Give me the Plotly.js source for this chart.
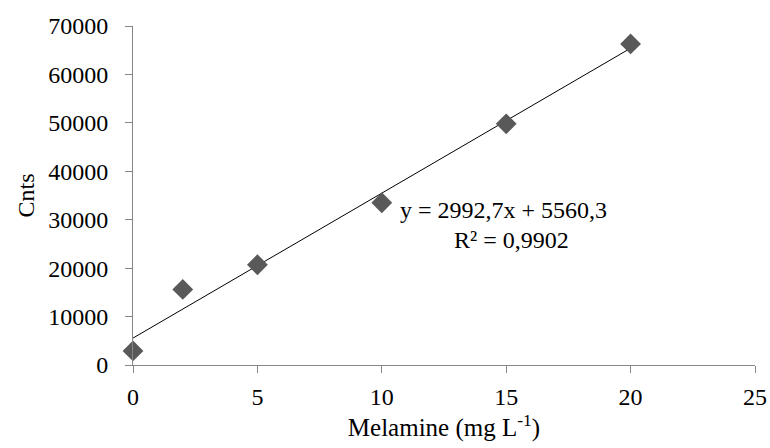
<!DOCTYPE html>
<html>
<head>
<meta charset="utf-8">
<script src="https://cdn.plot.ly/plotly-3.0.1.min.js"></script>
<style>html,body{margin:0;padding:0;background:#fff;}#chart{width:770px;height:448px;}</style>
</head>
<body>
<div id="chart"></div>
<script>
// Data
const melamine = [0, 2, 5, 10, 15, 20];
const counts = [2900, 15600, 20700, 33500, 49800, 66300];
// Linear trendline shown in the chart
const slope = 2992.7;
const intercept = 5560.3;
const trendX = [0, 20];
const trendY = trendX.map(x => slope * x + intercept);
const xTicks = [0, 5, 10, 15, 20, 25];
const yTicks = [0, 10000, 20000, 30000, 40000, 50000, 60000, 70000];
const eqText = "y = 2992,7x + 5560,3";
const r2Text = "R² = 0,9902";

const font = "Liberation Serif, Times New Roman, serif";
const axisColor = "#868686";

const traces = [
  {
    x: trendX, y: trendY, mode: "lines", type: "scatter",
    line: {color: "#000000", width: 1}, hoverinfo: "skip", cliponaxis: false
  },
  {
    x: melamine, y: counts, mode: "markers", type: "scatter",
    marker: {symbol: "diamond", size: 16, color: "#595959"}, cliponaxis: false
  }
];

const layout = {
  width: 770, height: 448,
  margin: {l: 133, r: 15, t: 26, b: 83},
  paper_bgcolor: "#ffffff", plot_bgcolor: "#ffffff",
  showlegend: false,
  font: {family: font, color: "#000000", size: 24},
  xaxis: {
    range: [0, 25], tickvals: xTicks, ticktext: xTicks.map(String),
    showgrid: false, zeroline: false, showline: true, linecolor: axisColor, linewidth: 1,
    ticks: "outside", ticklen: 7, tickcolor: axisColor, tickwidth: 1,
    ticklabelstandoff: 3,
    tickfont: {family: font, size: 24, color: "#000"},
    title: {text: "Melamine (mg L<sup>-1</sup>)", font: {family: font, size: 25, color: "#000"}, standoff: 4}
  },
  yaxis: {
    range: [0, 70000], tickvals: yTicks, ticktext: yTicks.map(String),
    showgrid: false, zeroline: false, showline: true, linecolor: axisColor, linewidth: 1,
    ticks: "outside", ticklen: 7, tickcolor: axisColor, tickwidth: 1,
    ticklabelstandoff: 12,
    tickfont: {family: font, size: 24, color: "#000"},
    title: {text: "Cnts", font: {family: font, size: 24, color: "#000"}, standoff: 6}
  },
  annotations: [
    {xref: "paper", yref: "paper", x: (398 - 133) / 622, y: (365 - 210) / 339,
     xanchor: "left", yanchor: "middle", text: eqText, showarrow: false,
     font: {family: font, size: 24, color: "#000"}},
    {xref: "paper", yref: "paper", x: (511 - 133) / 622, y: (365 - 240) / 339,
     xanchor: "center", yanchor: "middle", text: r2Text, showarrow: false,
     font: {family: font, size: 24, color: "#000"}}
  ]
};

Plotly.newPlot("chart", traces, layout, {displayModeBar: false, staticPlot: true});
</script>
</body>
</html>
